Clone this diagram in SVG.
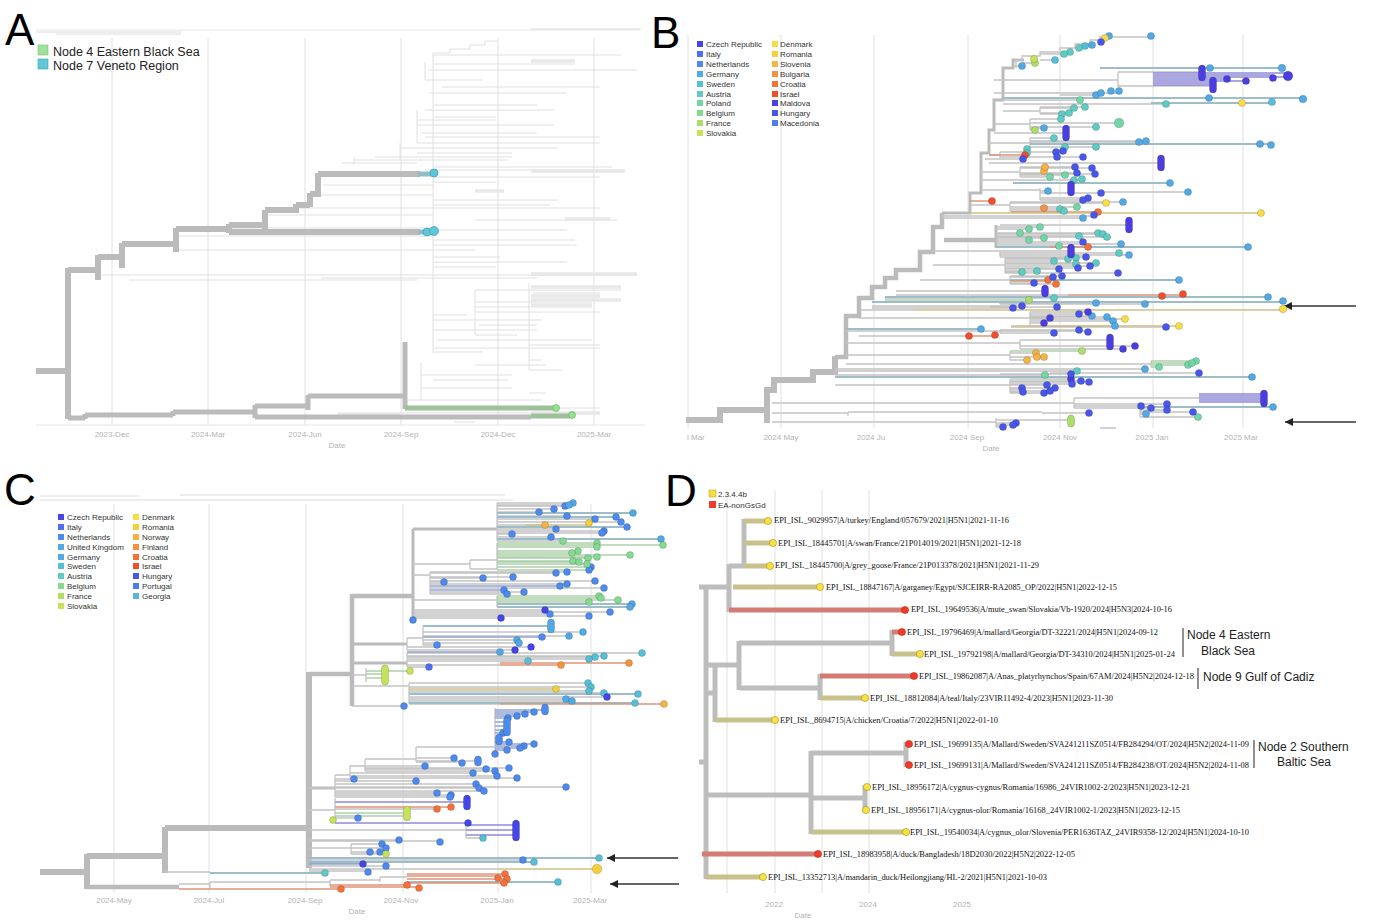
<svg xmlns="http://www.w3.org/2000/svg" width="1388" height="924" viewBox="0 0 1388 924">
<defs>
<marker id="ah" viewBox="0 0 10 10" markerWidth="11" markerHeight="8" markerUnits="userSpaceOnUse" refX="10" refY="5" orient="auto"><path d="M0 0 L10 5 L0 10 z" fill="#222"/></marker>
</defs>
<style>
.grid{stroke:#e0e0e0;stroke-width:1}
.ax{font-family:"Liberation Sans",Arial,sans-serif;font-size:8px;fill:#b3b3b3;text-anchor:middle}
.lg{font-family:"Liberation Sans",Arial,sans-serif;font-size:8px;fill:#333}
.big{font-family:"Liberation Sans",Arial,sans-serif;font-size:44px;fill:#000}
.nl{font-family:"Liberation Sans",Arial,sans-serif;font-size:12px;fill:#222}
.tip{font-family:"Liberation Serif","Times New Roman",serif;font-size:8.5px;fill:#111}
.br{fill:none;stroke:#c4c4c4;stroke-width:1.3}
.thk{fill:none;stroke:#bbbbbb}
.thin{fill:none;stroke:#e0e0e0;stroke-width:1}
.band{fill:none;stroke:#e8e8e8;stroke-width:3.5}
.tc{fill:none;stroke:#9dbdca;stroke-width:1.8}
.tb{fill:none;stroke:#93a7d4;stroke-width:1.4}
.tp{fill:none;stroke:#8e8bd8;stroke-width:1.5}
.tg{fill:none;stroke:#add1ab;stroke-width:1.4}
.to{fill:none;stroke:#e0957a;stroke-width:1.6}
.tt{fill:none;stroke:#cfc087;stroke-width:1.6}
.dots circle,.dots rect{stroke:rgba(0,0,0,0.25);stroke-width:0.6}
.c1{fill:#4646e8}.c2{fill:#4f6ff0}.c3{fill:#4c8aee}.c4{fill:#52a9e6}.c5{fill:#56bfd8}.c6{fill:#5fcbc2}.c7{fill:#72d6a8}.c8{fill:#85da92}.c9{fill:#abdf68}.c10{fill:#c6e25a}
.y1{fill:#f7dc48}.y2{fill:#f5cf3c}.o1{fill:#f5b347}.o2{fill:#f5913f}.o3{fill:#f5713a}.r1{fill:#f24e2e}.p1{fill:#4a3ee0}.b1{fill:#4857ea}.b2{fill:#4c7ef0}.gg{fill:#55b6df}
.arrow{stroke:#333;stroke-width:1.3;fill:none}
</style>
<rect width="1388" height="924" fill="#fff"/>

<!-- ================= PANEL A ================= -->
<g id="panel-A">
<text class="big" x="5" y="45">A</text>
<g id="A-grid">
<path class="grid" d="M112 38 V425 M208 38 V425 M305 38 V425 M401 38 V425 M498 38 V425 M594 38 V425"/>
<path d="M36 425 H645" stroke="#e6e6e6" stroke-width="1"/>
<path d="M36 30 H640" stroke="#e6e6e6" stroke-width="1"/>
<path d="M36 32 H181 M56 34 H181 M531 29 H641" stroke="#dcdcdc" stroke-width="1"/>
<text class="ax" x="112" y="437">2023-Dec</text>
<text class="ax" x="208" y="437">2024-Mar</text>
<text class="ax" x="305" y="437">2024-Jun</text>
<text class="ax" x="401" y="437">2024-Sep</text>
<text class="ax" x="498" y="437">2024-Dec</text>
<text class="ax" x="594" y="437">2025-Mar</text>
<text class="ax" x="337" y="448">Date</text>
</g>
<g id="A-connectors">
<path class="thin" d="M433 53 V353 M433 53 H450 V49 H470 V45 H485 V41 H497 M433 55 H621 M433 64 H575 M429 70 H637 M425 80 H483 M442 87 H600 M429 93 H567 M433 105 H537 M425 110 H554 M433 117 H496 M417 120 H496 M417 125 H554 M421 133 H537 M425 137 H600 M417 143 H600 M400 148 H558 M417 153 H512 M375 157 H512 M354 160 H508 M342 163 H417 M433 167 H612 M425 170 H625 M433 177 H600 M433 182 H496 M433 200 H558 M433 205 H550 M433 208 H600 M475 220 H617 M433 230 H567 M433 240 H575 M433 245 H577 M433 250 H475 M433 257 H500 M433 262 H567 M433 267 H496 M100 275 H637 M321 278 H537 M129 280 H417 M475 290 H621 M533 293 H600 M475 302 H592 M475 307 H592 M475 312 H600 M433 315 H467 M433 320 H542 M479 325 H537 M433 330 H537 M475 335 H517 M437 340 H592 M529 345 H600 M433 348 H600 M433 352 H483 M529 360 H542 M475 365 H546 M529 370 H562 M421 375 H512 M433 380 H508 M421 388 H512 M529 393 H546 M408 400 H542 M537 408 H600 M337 413 H600 M425 418 H467 M454 422 H475 M475 290 V335 M529 283 V370 M421 363 V400 M400 143 V160 M354 157 V165 M425 62 V80 M417 110 V143 M176 250 H433 M176 236 H433 M229 228 H433 M265 215 H433 M296 208 H433 M313 195 H433 M323 185 H433"/>
<path class="band" d="M531 61 H575 M531 171 H625 M475 191 H504 M565 219 H610 M531 274 H637 M531 287 H621 M531 296 H600 M531 300 H621 M531 305 H592 M531 413 H600 M338 415 H400"/>
<path class="thk" stroke-width="6" d="M36 371 H68 M68 268 V419 M68 270 H98 M98 255 V280 M98 257 H122 M122 243 V268 M122 244 H176 M176 228 V252 M176 229 H229 M229 224 V233 M229 232 H420 M229 225 H265 M265 210 V230 M265 210 H296 M296 204 V213 M296 205 H310 M310 193 V207 M310 194 H318 M318 173 V197 M318 174 H420"/>
<path class="thk" stroke-width="5" d="M68 418 H85 M85 414 V419 M85 415 H173 M173 411 V416 M173 412 H255 M255 405 V418 M255 406 H308 M308 395 V410 M308 396 H405 M405 342 V409 M255 417 H531"/>
<path fill="none" stroke="#8fbcc6" stroke-width="5" d="M418 232 H428 M418 174 H432"/>
<path fill="none" stroke="#a0c09c" stroke-width="5" d="M405 408 H554 M531 416 H570"/>
</g>
<g id="A-tips">
<circle cx="427" cy="232" r="4" fill="#5ec6d8" stroke="#3a9fb0" stroke-width="0.7"/>
<circle cx="434" cy="231" r="4.5" fill="#5ec6d8" stroke="#3a9fb0" stroke-width="0.7"/>
<circle cx="434" cy="173" r="4" fill="#5ec6d8" stroke="#3a9fb0" stroke-width="0.7"/>
<circle cx="556" cy="408" r="3.5" fill="#98e08f" stroke="#6ab860" stroke-width="0.7"/>
<circle cx="572" cy="415" r="3.5" fill="#98e08f" stroke="#6ab860" stroke-width="0.7"/>
</g>
<g id="A-legend">
<rect x="38" y="45" width="10" height="10" fill="#a0e29a" stroke="#7cc076" stroke-width="0.6"/>
<rect x="38" y="59" width="10" height="10" fill="#62c8d8" stroke="#3d9fb0" stroke-width="0.6"/>
<text x="53" y="56" font-family="Liberation Sans, Arial, sans-serif" font-size="12.5" fill="#222">Node 4 Eastern Black Sea</text>
<text x="53" y="70" font-family="Liberation Sans, Arial, sans-serif" font-size="12.5" fill="#222">Node 7 Veneto Region</text>
</g>
</g>

<!-- ================= PANEL B ================= -->
<g id="panel-B">
<text class="big" x="651" y="48">B</text>
<g id="B-grid">
<path class="grid" d="M688 35 V428 M781 35 V428 M874 35 V428 M968 35 V428 M1060 35 V428 M1153 35 V428 M1243 35 V428"/>
<text class="ax" x="687" y="440" style="text-anchor:start">l Mar</text>
<text class="ax" x="781" y="440">2024 May</text>
<text class="ax" x="871" y="440">2024 Ju</text>
<text class="ax" x="967" y="440">2024 Sep</text>
<text class="ax" x="1060" y="440">2024 Nov</text>
<text class="ax" x="1152" y="440">2025 Jan</text>
<text class="ax" x="1241" y="440">2025 Mar</text>
<text class="ax" x="991" y="451">Date</text>
</g>
<g id="B-connectors">
<path class="thk" stroke-width="6" d="M686 420 H720 V410 H767 M767 423 V390 H774 V380 H813 V372 H835 V356"/>
<path class="thk" stroke-width="4.5" d="M835 357 H846 V316 H859 V298 H872 V287 H885 V278 H896 V270 H920 V252 H933 V227 H942 V213 M944 240 H996"/>
<path class="thk" stroke-width="3" d="M942 213 H970 V193 H981 V153 H989 V130 H994 V100 H1003 V68 H1013 V60 H1024 M996 225 V248"/>
<path class="br" d="M1016 68 V60 H1022 V56 H1040 V52 H1060 V48 H1075 V44 H1090 V40 H1100 V37 H1151 M1040 54 H1064 M1040 60 H1055 M1022 63 H1035 M1013 66 H1022
M994 80 H1118 M1118 72 V87 M1118 72 H1202 M1118 86 H1213 M994 93 H1119 M1060 95 H1096 M1003 100 H1080 M1003 104 H1166
M1003 111 H1040 M1040 107 V114 M1040 108 H1074 M1040 107 H1085 M1040 113 H1069 M1040 114 H1062
M994 124 H1030 M1030 119 V130 M1030 119 H1061 M1030 123 H1119 M1030 127 H1096 M1030 128 H1044 M1030 130 H1035 M994 133 H1066
M989 143 H1030 M1030 138 V149 M1030 138 H1054 M1030 141 H1146 M1030 142 H1139 M1030 147 H1096 M1030 149 H1027
M989 155 H1000 M1000 152 V158 M1000 152 H1063 M1000 157 H1083 M985 159 H1023 M989 163 H1161
M981 172 H1020 M1020 167 V177 M1020 167 H1075 M1020 168 H1092 M1020 173 H1077 M1020 174 H1095 M1020 175 H1065 M1020 177 H1050 M981 180 H1082
M981 190 H1040 M1040 188 V200 M1040 191 H1048 M1040 193 H1101 M1040 198 H1088 M1040 200 H1083 M1100 192 H1188
M970 205 H1010 M1010 202 V211 M1010 202 H1123 M1010 203 H1106 M1010 207 H1077 M1010 209 H1060 M1010 211 H1064
M942 216 H1094 M942 218 H1083 M1000 225 H1129
M996 227 H1040 M996 229 H1029 M996 233 H1098 M996 234 H1103 M996 236 H1079 M996 237 H1107 M996 238 H1044 M996 240 H1029 M996 242 H1083 M996 244 H1121 M996 246 H1059
M933 251 H1071 M1000 253 H1119 M1000 255 H1129 M1000 257 H1086 M1000 251 V257
M933 265 H1005 M1005 258 V273 M1005 258 H1076 M1005 259 H1068 M1005 261 H1054 M1005 263 H1096 M1005 264 H1076 M1005 266 H1090 M1005 268 H1078 M1005 269 H1059 M1005 271 H1037 M1005 272 H1022 M1005 273 H1118
M920 280 H1010 M1010 276 V284 M1010 276 H1062 M1010 277 H1053 M1010 283 H1034 M1010 284 H1056
M896 291 H1045 M896 295 H1068 M885 298 H1054 M1000 303 H1096 M1000 304 H1145 M1000 302 V304
M872 306 H1022 M990 307 H1057 M872 308 H1013 M859 310 H915
M859 318 H1030 M1030 312 V326 M1030 312 H1088 M1030 314 H1079 M1030 316 H1092 M1030 317 H1107 M1030 318 H1050 M1030 319 H1125 M1030 321 H1113 M1030 323 H1044 M1030 326 H1115 M1011 327 H1166
M846 331 H1000 M1000 330 V333 M1000 330 H1079 M1000 331 H1088 M1000 333 H1054 M859 336 H969
M846 343 H1020 M1020 340 V349 M1020 340 H1110 M1020 346 H1135 M1020 349 H1123
M846 355 H1010 M1010 351 V360 M1010 353 H1036 M1010 357 H1044 M1010 360 H1027 M846 364 H1151 M1151 361 V367
M835 369 H1145 M835 371 H1077 M1050 373 H1199 M835 375 H1045 M1000 374 H1071
M835 385 H1010 M1010 379 V393 M1010 379 H1071 M1010 381 H1081 M1010 382 H1089 M1010 384 H1072 M1010 385 H1047 M1010 388 H1055 M1010 389 H1022 M1010 391 H1050 M1010 392 H1023 M1010 393 H1044
M772 403 H1074 M1074 398 V408 M1074 398 H1199 M1074 404 H1167 M1074 406 H1141 M1074 408 H1151 M1140 404 V417 M1140 410 H1167 M1140 412 H1193 M1140 414 H1146 M1140 417 H1198
M848 412 H1042 M772 413 H848 M1042 413 H1089 M848 412 V416 M772 422 H996 M996 418 V427 M996 420 H1071 M996 423 H1016 M996 425 H1013 M996 427 H1003 M1100 428 H1116"/>
<path class="tc" d="M1100 68 H1282 M1003 98 H1303 M1151 103 H1273 M1030 144 H1271 M1013 183 H1170 M996 247 H1248 M1010 280 H1179 M885 297 H1268 M872 302 H1283 M846 329 H981 M835 377 H1252 M1140 407 H1273"/>
<path class="tp" d="M1153 73 H1290 M1153 75 H1273 M1153 77 H1288 M1153 79 H1227 M1153 81 H1246 M1153 83 H1213 M1153 85 H1213 M1199 394 H1264 M1199 396 H1264 M1199 398 H1264 M1199 400 H1264 M1199 402 H1264"/>
<path class="to" d="M989 155 H1025 M970 201 H992 M1011 212 H1098 M1050 247 H1088 M1010 281 H1048 M1068 295 H1183 M969 336 H995"/>
<path class="tt" d="M970 213 H1261 M915 310 H1283 M1011 326 H1179"/>
<path class="tg" d="M885 300 H1029 M1010 351 H1082 M1151 361 H1196 M1151 363 H1192 M1151 365 H1188 M1151 367 H1159"/>
<path class="arrow" marker-end="url(#ah)" d="M1356 306 H1284"/>
<path class="arrow" marker-end="url(#ah)" d="M1356 422 H1285"/>
</g>
<g id="B-tips" class="dots">
<g class="c4">
<circle cx="1151" cy="36" r="3.6"/><circle cx="1109" cy="36" r="3.6"/><circle cx="1092" cy="45" r="3.6"/><circle cx="1022" cy="66" r="3.6"/><circle cx="1210" cy="68" r="3.6"/><circle cx="1282" cy="68" r="3.8"/><circle cx="1096" cy="95" r="3.6"/><circle cx="1101" cy="93" r="3.6"/><circle cx="1111" cy="91" r="3.6"/><circle cx="1119" cy="91" r="3.6"/><circle cx="1209" cy="98" r="3.6"/><circle cx="1303" cy="99" r="3.8"/><circle cx="1044" cy="128" r="3.6"/><circle cx="1139" cy="142" r="3.6"/><circle cx="1146" cy="141" r="3.6"/><circle cx="1260" cy="144" r="3.6"/><circle cx="1271" cy="145" r="3.6"/><circle cx="1170" cy="183" r="3.6"/><circle cx="1048" cy="191" r="3.6"/><circle cx="1188" cy="192" r="3.6"/><circle cx="1123" cy="202" r="3.6"/><circle cx="1083" cy="218" r="3.6"/><circle cx="1121" cy="244" r="3.6"/><circle cx="1248" cy="247" r="3.6"/><circle cx="1129" cy="255" r="3.6"/><circle cx="1179" cy="280" r="3.6"/><circle cx="1268" cy="297" r="3.6"/><circle cx="1283" cy="301" r="3.6"/><circle cx="1096" cy="303" r="3.6"/><circle cx="1145" cy="304" r="3.6"/><circle cx="1092" cy="316" r="3.6"/><circle cx="1107" cy="317" r="3.6"/><circle cx="1113" cy="321" r="3.6"/><circle cx="1115" cy="326" r="3.6"/><circle cx="981" cy="329" r="3.6"/><circle cx="1145" cy="369" r="3.6"/><circle cx="1252" cy="377" r="3.6"/><circle cx="1273" cy="407" r="3.6"/><circle cx="1146" cy="414" r="3.6"/>
</g>
<g class="c5"><circle cx="1085" cy="46" r="3.6"/><circle cx="1055" cy="60" r="3.6"/><circle cx="1272" cy="102" r="3.6"/></g>
<g class="c6">
<circle cx="1079" cy="48" r="3.6"/><circle cx="1070" cy="52" r="3.6"/><circle cx="1064" cy="54" r="3.6"/><circle cx="1166" cy="104" r="3.6"/><circle cx="1074" cy="108" r="3.6"/><circle cx="1085" cy="107" r="3.6"/><circle cx="1069" cy="113" r="3.6"/><circle cx="1062" cy="114" r="3.6"/><circle cx="1061" cy="119" r="3.6"/><circle cx="1096" cy="127" r="3.6"/><circle cx="1054" cy="138" r="3.6"/><circle cx="1065" cy="147" r="3.6"/><circle cx="1096" cy="147" r="3.6"/><circle cx="1027" cy="149" r="3.6"/><circle cx="1027" cy="153" r="3.6"/><circle cx="1074" cy="180" r="3.6"/><circle cx="1082" cy="179" r="3.6"/><circle cx="1060" cy="209" r="3.6"/><circle cx="1064" cy="211" r="3.6"/><circle cx="1098" cy="233" r="3.6"/><circle cx="1103" cy="234" r="3.6"/><circle cx="1107" cy="237" r="3.6"/><circle cx="1079" cy="236" r="3.6"/><circle cx="1119" cy="253" r="3.6"/><circle cx="1054" cy="261" r="3.6"/><circle cx="1068" cy="259" r="3.6"/><circle cx="1076" cy="258" r="3.6"/><circle cx="1096" cy="263" r="3.6"/><circle cx="1076" cy="264" r="3.6"/><circle cx="1037" cy="271" r="3.6"/><circle cx="1022" cy="272" r="3.6"/><circle cx="1054" cy="298" r="3.6"/><circle cx="1077" cy="371" r="3.6"/>
</g>
<g class="c7">
<circle cx="1080" cy="100" r="3.6"/><circle cx="1119" cy="123" r="4.8"/><circle cx="1050" cy="177" r="3.6"/><circle cx="1065" cy="175" r="3.6"/><circle cx="1077" cy="207" r="3.6"/><circle cx="1020" cy="233" r="3.6"/><circle cx="1029" cy="229" r="3.6"/><circle cx="1040" cy="227" r="3.6"/><circle cx="1029" cy="240" r="3.6"/><circle cx="1044" cy="238" r="3.6"/><circle cx="1059" cy="246" r="3.6"/><circle cx="1196" cy="361" r="3.6"/><circle cx="1188" cy="365" r="3.6"/><circle cx="1192" cy="363" r="3.6"/><circle cx="1159" cy="367" r="3.6"/><circle cx="1045" cy="375" r="3.6"/><circle cx="1198" cy="417" r="3.6"/>
</g>
<g class="c9"><circle cx="1035" cy="63" r="3.6"/><circle cx="1035" cy="130" r="3.6"/><circle cx="1029" cy="300" r="3.6"/><circle cx="1082" cy="351" r="3.6"/><rect x="1067.5" y="415" width="7" height="12" rx="3.5"/></g>
<g class="c10"><circle cx="1034" cy="59" r="3.6"/></g>
<g class="y1"><circle cx="1105" cy="38" r="3.6"/><circle cx="1242" cy="103" r="3.6"/><circle cx="1106" cy="203" r="3.6"/><circle cx="1261" cy="213" r="3.6"/><circle cx="1283" cy="309" r="3.8"/><circle cx="1125" cy="319" r="3.6"/><circle cx="1179" cy="326" r="3.6"/></g>
<g class="o1"><circle cx="1044" cy="171" r="3.6"/><circle cx="1045" cy="167" r="3.6"/><circle cx="1036" cy="353" r="3.6"/><circle cx="1037" cy="357" r="3.6"/><circle cx="1044" cy="357" r="3.6"/><circle cx="1027" cy="360" r="3.6"/></g>
<g class="o2"><circle cx="1044" cy="208" r="3.6"/></g>
<g class="o3"><circle cx="1098" cy="212" r="3.6"/><circle cx="1088" cy="247" r="3.6"/><circle cx="1048" cy="280" r="3.6"/><circle cx="1056" cy="284" r="3.6"/></g>
<g class="r1"><circle cx="1025" cy="155" r="3.6"/><circle cx="992" cy="201" r="3.6"/><circle cx="1162" cy="296" r="3.6"/><circle cx="1183" cy="294" r="3.6"/><circle cx="969" cy="336" r="3.6"/><circle cx="995" cy="335" r="3.6"/></g>
<g class="p1">
<circle cx="1227" cy="79" r="3.6"/><circle cx="1246" cy="81" r="3.6"/><circle cx="1273" cy="78" r="3.6"/><circle cx="1288" cy="76" r="4.8"/><circle cx="1088" cy="312" r="3.6"/><circle cx="1050" cy="318" r="3.6"/><circle cx="1044" cy="323" r="3.6"/><circle cx="1123" cy="349" r="3.6"/><circle cx="1135" cy="346" r="3.6"/><circle cx="1071" cy="379" r="3.6"/>
<rect x="1198.5" y="65" width="7" height="16" rx="3.5"/><rect x="1209.5" y="77" width="7" height="16" rx="3.5"/><rect x="1062.5" y="125" width="7" height="16" rx="3.5"/><rect x="1157.5" y="155" width="7" height="16" rx="3.5"/><rect x="1067.5" y="181" width="7" height="15" rx="3.5"/><rect x="1125.5" y="217" width="7" height="16" rx="3.5"/><rect x="1067.5" y="244" width="7" height="14" rx="3.5"/><rect x="1041.5" y="285" width="7" height="12" rx="3.5"/><rect x="1106.5" y="334" width="7" height="16" rx="3.5"/><rect x="1260.5" y="390" width="7" height="17" rx="3.5"/>
</g>
<g class="b1">
<circle cx="1101" cy="42" r="3.6"/><circle cx="1056" cy="152" r="3.6"/><circle cx="1063" cy="151" r="3.6"/><circle cx="1083" cy="157" r="3.6"/><circle cx="1057" cy="157" r="3.6"/><circle cx="1023" cy="159" r="3.6"/><circle cx="1075" cy="167" r="3.6"/><circle cx="1092" cy="168" r="3.6"/><circle cx="1077" cy="173" r="3.6"/><circle cx="1095" cy="174" r="3.6"/><circle cx="1101" cy="193" r="3.6"/><circle cx="1088" cy="198" r="3.6"/><circle cx="1083" cy="200" r="3.6"/><circle cx="1094" cy="215" r="3.6"/><circle cx="1083" cy="242" r="3.6"/><circle cx="1086" cy="257" r="3.6"/><circle cx="1090" cy="266" r="3.6"/><circle cx="1078" cy="268" r="3.6"/><circle cx="1059" cy="269" r="3.6"/><circle cx="1118" cy="273" r="3.6"/><circle cx="1053" cy="277" r="3.6"/><circle cx="1062" cy="276" r="3.6"/><circle cx="1034" cy="283" r="3.6"/><circle cx="1022" cy="306" r="3.6"/><circle cx="1013" cy="308" r="3.6"/><circle cx="1057" cy="307" r="3.6"/><circle cx="1079" cy="314" r="3.6"/><circle cx="1166" cy="327" r="3.6"/><circle cx="1079" cy="330" r="3.6"/><circle cx="1088" cy="332" r="3.6"/><circle cx="1054" cy="333" r="3.6"/><circle cx="1199" cy="373" r="3.6"/><circle cx="1071" cy="374" r="3.6"/><circle cx="1081" cy="381" r="3.6"/><circle cx="1089" cy="382" r="3.6"/><circle cx="1072" cy="384" r="3.6"/><circle cx="1047" cy="385" r="3.6"/><circle cx="1055" cy="388" r="3.6"/><circle cx="1022" cy="388" r="3.6"/><circle cx="1023" cy="392" r="3.6"/><circle cx="1044" cy="393" r="3.6"/><circle cx="1050" cy="391" r="3.6"/><circle cx="1167" cy="404" r="3.6"/><circle cx="1141" cy="406" r="3.6"/><circle cx="1151" cy="408" r="3.6"/><circle cx="1167" cy="410" r="3.6"/><circle cx="1193" cy="412" r="3.6"/><circle cx="1089" cy="413" r="3.6"/><circle cx="1016" cy="423" r="3.6"/><circle cx="1013" cy="425" r="3.6"/><circle cx="1003" cy="427" r="3.6"/>
</g>
</g>
<g id="B-legend" class="lg">
<rect class="c1" x="697" y="41" width="6" height="6"/><text x="706" y="47">Czech Republic</text>
<rect class="c2" x="697" y="51" width="6" height="6"/><text x="706" y="57">Italy</text>
<rect class="c3" x="697" y="61" width="6" height="6"/><text x="706" y="67">Netherlands</text>
<rect class="c4" x="697" y="71" width="6" height="6"/><text x="706" y="77">Germany</text>
<rect class="c5" x="697" y="81" width="6" height="6"/><text x="706" y="87">Sweden</text>
<rect class="c6" x="697" y="91" width="6" height="6"/><text x="706" y="97">Austria</text>
<rect class="c7" x="697" y="100" width="6" height="6"/><text x="706" y="106">Poland</text>
<rect class="c8" x="697" y="110" width="6" height="6"/><text x="706" y="116">Belgium</text>
<rect class="c9" x="697" y="120" width="6" height="6"/><text x="706" y="126">France</text>
<rect class="c10" x="697" y="130" width="6" height="6"/><text x="706" y="136">Slovakia</text>
<rect class="y1" x="772" y="41" width="6" height="6"/><text x="780" y="47">Denmark</text>
<rect class="y2" x="772" y="51" width="6" height="6"/><text x="780" y="57">Romania</text>
<rect class="o1" x="772" y="61" width="6" height="6"/><text x="780" y="67">Slovenia</text>
<rect class="o2" x="772" y="71" width="6" height="6"/><text x="780" y="77">Bulgaria</text>
<rect class="o3" x="772" y="81" width="6" height="6"/><text x="780" y="87">Croatia</text>
<rect class="r1" x="772" y="91" width="6" height="6"/><text x="780" y="97">Israel</text>
<rect class="p1" x="772" y="100" width="6" height="6"/><text x="780" y="106">Maldova</text>
<rect class="b1" x="772" y="110" width="6" height="6"/><text x="780" y="116">Hungary</text>
<rect class="b2" x="772" y="120" width="6" height="6"/><text x="780" y="126">Macedonia</text>
</g>
</g>

<!-- ================= PANEL C ================= -->
<g id="panel-C">
<text class="big" x="4" y="505">C</text>
<g id="C-grid">
<path class="grid" d="M114 504 V893 M209 504 V893 M306 504 V893 M403 504 V893 M498 504 V893 M591 504 V893"/>
<path d="M40 500 H513 M40 496 H140 M180 495 H505" stroke="#dcdcdc" stroke-width="1"/>
<text class="ax" x="114" y="903">2024-May</text>
<text class="ax" x="209" y="903">2024-Jul</text>
<text class="ax" x="305" y="903">2024-Sep</text>
<text class="ax" x="401" y="903">2024-Nov</text>
<text class="ax" x="497" y="903">2025-Jan</text>
<text class="ax" x="590" y="903">2025-Mar</text>
<text class="ax" x="357" y="914">Date</text>
</g>
<g id="C-connectors">
<path class="thk" stroke-width="6" d="M40 872 H87 M87 854 V889 M87 856 H165 M165 827 V873 M165 828 H309 M309 672 V868"/>
<path class="thk" stroke-width="4.5" d="M309 674 H352 M352 594 V706 M352 596 H413 M87 887 H179"/>
<path class="thk" stroke-width="3" d="M413 529 V621 M413 529 H497 M352 644 H407 M352 663 H407 M309 788 H335"/>
<path class="br" d="M497 503 V541 M497 503 H573 M497 505 H569 M497 506 H565 M497 509 H554 M497 512 H539 M497 516 H567 M497 519 H595 M497 522 H621 M497 525 H545 M497 529 H556 M497 531 H604 M497 533 H602 M497 534 H512 M497 537 H551 M497 541 H563
M413 564 H470 M470 560 V569 M470 560 H497 M470 569 H497 M497 543 V570
M413 575 H430 M430 572 V594 M430 572 H567 M430 573 H556 M430 577 H513 M430 578 H483 M430 581 H595 M430 582 H444 M430 584 H567 M430 588 H604 M430 592 H524 M430 594 H507
M413 600 H497 M497 596 V607 M413 610 H545 M413 612 H610 M413 614 H550 M413 616 H589 M413 618 H501
M407 638 V650 M407 638 H423 M423 626 V645 M423 632 H583 M423 636 H569 M423 640 H517 M423 643 H519 M423 645 H437 M407 647 H531 M407 650 H515
M407 653 V667 M407 653 H642 M407 656 H604 M407 657 H595 M407 659 H589 M407 661 H528 M407 665 H500 M407 667 H429
M352 675 H366 M366 668 V682
M352 686 H409 M409 683 V704 M409 683 H588 M409 687 H591 M409 691 H589 M409 693 H604 M409 697 H607 M409 699 H566 M409 701 H572 M409 704 H500 M352 706 H404
M416 747 H495 M495 708 V756 M309 788 H335 M335 775 V797 M335 775 H350 M350 765 V777 M350 766 H365 M365 759 V771 M365 759 H416 M416 747 V762
M416 758 H454 M416 761 H478 M416 762 H462 M365 766 H425 M365 769 H486 M365 768 H509 M365 771 H495 M350 773 H473 M350 776 H497 M350 778 H517 M335 779 H354 M335 781 H416
M335 784 H476 M335 788 H479 M335 791 H484 M335 787 H566 M335 793 H437 M335 795 H451 M335 797 H450
M309 810 H335 M335 798 V823 M335 809 H437 M335 818 H358
M309 830 H466 M466 823 V838 M466 838 H483 M309 841 H440 M309 840 H399 M309 848 H351 M351 844 V854 M351 844 H382 M351 848 H386 M351 852 H380 M351 854 H386
M309 860 H523 M309 866 H386 M309 869 H497 M165 872 H210 M309 871 H368
M179 884 H210 M210 882 V889 M210 882 H330 M330 880 V886 M330 880 H380 M380 877 V882 M380 877 H407"/>
<path class="tb" d="M495 710 H545 M495 712 H534 M495 714 H525 M495 716 H517 M495 718 H508 M495 722 H507 M495 726 H507 M495 730 H507 M495 733 H503 M495 738 H499 M495 742 H509 M495 744 H534 M495 746 H524 M495 748 H520 M495 750 H507 M495 754 H495 M430 586 H560 M430 590 H504 M423 637 H542 M309 863 H364 M309 864 H363 M407 652 H500"/>
<path class="tc" d="M497 513 H633 M497 539 H661 M497 527 H627 M497 517 H616 M497 604 H632 M497 607 H630 M309 858 H599 M309 862 H534 M210 873 H325 M407 882 H558 M409 694 H638 M409 703 H635 M423 626 H551"/>
<path class="tg" d="M497 543 H597 M497 545 H663 M497 547 H597 M497 551 H578 M497 553 H572 M497 555 H630 M497 557 H597 M497 558 H588 M497 561 H573 M497 562 H579 M497 564 H587 M497 567 H591 M497 570 H589 M497 596 H599 M497 598 H601 M497 600 H618 M497 602 H589 M366 671 H410 M366 674 H385 M366 678 H385 M335 813 H407 M335 816 H407 M335 820 H333"/>
<path class="tp" d="M335 823 H468 M466 825 H516 M466 830 H516 M466 835 H516 M335 802 H467"/>
<path class="to" d="M500 665 H561 M500 663 H629 M500 704 H664 M407 874 H505 M407 876 H498 M407 879 H507 M407 883 H504 M330 885 H407 M330 887 H419 M179 889 H341 M335 807 H451"/>
<path class="tt" d="M525 525 H589 M409 689 H556 M497 869 H597"/>
<path class="arrow" marker-end="url(#ah)" d="M678 858 H607"/>
<path class="arrow" marker-end="url(#ah)" d="M679 884 H610"/>
</g>
<g id="C-tips" class="dots">
<g class="c3">
<circle cx="565" cy="506" r="3.5"/><circle cx="554" cy="509" r="3.5"/><circle cx="539" cy="512" r="3.5"/><circle cx="567" cy="516" r="3.5"/><circle cx="616" cy="517" r="3.5"/><circle cx="595" cy="519" r="3.5"/><circle cx="621" cy="522" r="3.5"/><circle cx="556" cy="529" r="3.5"/><circle cx="604" cy="531" r="3.5"/><circle cx="602" cy="533" r="3.5"/><circle cx="627" cy="527" r="3.5"/><circle cx="512" cy="534" r="3.5"/><circle cx="551" cy="537" r="3.5"/><circle cx="591" cy="567" r="3.5"/><circle cx="589" cy="570" r="3.5"/><circle cx="567" cy="572" r="3.5"/><circle cx="556" cy="573" r="3.5"/><circle cx="513" cy="577" r="3.5"/><circle cx="483" cy="578" r="3.5"/><circle cx="595" cy="581" r="3.5"/><circle cx="444" cy="582" r="3.5"/><circle cx="567" cy="584" r="3.5"/><circle cx="560" cy="586" r="3.5"/><circle cx="604" cy="588" r="3.5"/><circle cx="504" cy="590" r="3.5"/><circle cx="507" cy="594" r="3.5"/><circle cx="524" cy="592" r="3.5"/><circle cx="550" cy="614" r="3.5"/><circle cx="589" cy="616" r="3.5"/><circle cx="610" cy="612" r="3.5"/><circle cx="413" cy="620" r="3.5"/><circle cx="542" cy="637" r="3.5"/><circle cx="437" cy="645" r="3.5"/><circle cx="523" cy="860" r="3.5"/><circle cx="386" cy="866" r="3.5"/><circle cx="368" cy="872" r="3.5"/><circle cx="404" cy="706" r="3.5"/><circle cx="534" cy="712" r="3.5"/><circle cx="525" cy="714" r="3.5"/><circle cx="517" cy="716" r="3.5"/><circle cx="508" cy="718" r="3.5"/><circle cx="503" cy="733" r="3.5"/><circle cx="509" cy="742" r="3.5"/><circle cx="524" cy="746" r="3.5"/><circle cx="534" cy="744" r="3.5"/><circle cx="520" cy="748" r="3.5"/><circle cx="507" cy="750" r="3.5"/><circle cx="495" cy="754" r="3.5"/><circle cx="454" cy="758" r="3.5"/><circle cx="462" cy="763" r="3.5"/><circle cx="425" cy="766" r="3.5"/><circle cx="486" cy="769" r="3.5"/><circle cx="509" cy="768" r="3.5"/><circle cx="495" cy="771" r="3.5"/><circle cx="473" cy="773" r="3.5"/><circle cx="497" cy="776" r="3.5"/><circle cx="517" cy="778" r="3.5"/><circle cx="354" cy="779" r="3.5"/><circle cx="416" cy="781" r="3.5"/><circle cx="476" cy="784" r="3.5"/><circle cx="479" cy="788" r="3.5"/><circle cx="484" cy="791" r="3.5"/><circle cx="566" cy="787" r="3.5"/><circle cx="437" cy="793" r="3.5"/><circle cx="451" cy="795" r="3.5"/><circle cx="450" cy="797" r="3.5"/><circle cx="358" cy="818" r="3.5"/><circle cx="399" cy="840" r="3.5"/><circle cx="440" cy="842" r="3.5"/><circle cx="382" cy="844" r="3.5"/><circle cx="386" cy="848" r="3.5"/><circle cx="380" cy="852" r="3.5"/><circle cx="370" cy="852" r="3.5"/>
<rect x="541.5" y="704" width="7" height="11" rx="3.5"/><rect x="503.5" y="717" width="7" height="19" rx="3.5"/><rect x="495.5" y="734" width="7" height="11" rx="3.5"/><rect x="474.5" y="756" width="7" height="10" rx="3.5"/>
</g>
<g class="c2"><circle cx="429" cy="667" r="3.5"/></g>
<g class="c4"><circle cx="573" cy="503" r="3.5"/><circle cx="569" cy="505" r="3.5"/><circle cx="633" cy="513" r="3.5"/><circle cx="661" cy="539" r="3.5"/><circle cx="632" cy="604" r="3.5"/><circle cx="630" cy="607" r="3.5"/><circle cx="583" cy="632" r="3.5"/><circle cx="569" cy="636" r="3.5"/><circle cx="517" cy="640" r="3.5"/><circle cx="519" cy="643" r="3.5"/><circle cx="500" cy="652" r="3.5"/><circle cx="566" cy="699" r="3.5"/><circle cx="572" cy="701" r="3.5"/><rect x="547.5" y="619" width="7" height="14" rx="3.5"/></g>
<g class="c5"><circle cx="642" cy="653" r="3.5"/><circle cx="604" cy="656" r="3.5"/><circle cx="595" cy="657" r="3.5"/><circle cx="589" cy="659" r="3.5"/><circle cx="528" cy="661" r="3.5"/><circle cx="588" cy="683" r="3.5"/><circle cx="591" cy="687" r="3.5"/><circle cx="589" cy="691" r="3.5"/><circle cx="604" cy="693" r="3.5"/><circle cx="638" cy="694" r="3.5"/><circle cx="635" cy="703" r="3.5"/><circle cx="483" cy="838" r="3.5"/><circle cx="599" cy="858" r="3.5"/><circle cx="534" cy="862" r="3.5"/><circle cx="558" cy="882" r="3.5"/></g>
<g class="c6"><circle cx="325" cy="873" r="3.5"/></g>
<g class="c8"><circle cx="563" cy="541" r="3.5"/><circle cx="597" cy="543" r="3.5"/><circle cx="663" cy="545" r="3.5"/><circle cx="597" cy="547" r="3.5"/><circle cx="578" cy="551" r="3.5"/><circle cx="572" cy="553" r="3.5"/><circle cx="630" cy="555" r="3.5"/><circle cx="597" cy="557" r="3.5"/><circle cx="588" cy="558" r="3.5"/><circle cx="573" cy="561" r="3.5"/><circle cx="579" cy="562" r="3.5"/><circle cx="587" cy="564" r="3.5"/><circle cx="599" cy="596" r="3.5"/><circle cx="601" cy="598" r="3.5"/><circle cx="618" cy="600" r="3.5"/><circle cx="589" cy="602" r="3.5"/></g>
<g class="c10"><circle cx="410" cy="671" r="3.5"/><circle cx="333" cy="820" r="3.5"/><circle cx="386" cy="854" r="3.5"/><rect x="381.5" y="665" width="7" height="20" rx="3.5"/><rect x="403.5" y="806" width="7" height="15" rx="3.5"/></g>
<g class="y2"><circle cx="589" cy="523" r="3.5"/><circle cx="556" cy="689" r="3.5"/><circle cx="597" cy="869" r="4.8"/></g>
<g class="o1"><circle cx="545" cy="525" r="3.5"/><circle cx="664" cy="704" r="3.5"/></g>
<g class="o2"><circle cx="561" cy="665" r="3.5"/><circle cx="629" cy="663" r="3.5"/></g>
<g class="o3"><circle cx="437" cy="809" r="3.5"/><circle cx="451" cy="807" r="3.5"/><circle cx="505" cy="874" r="3.5"/><circle cx="507" cy="879" r="3.5"/><circle cx="498" cy="878" r="3.5"/><circle cx="504" cy="883" r="3.5"/><circle cx="407" cy="885" r="3.5"/><circle cx="419" cy="888" r="3.5"/><circle cx="341" cy="889" r="3.5"/></g>
<g class="c1"><circle cx="545" cy="610" r="3.5"/><circle cx="501" cy="618" r="3.5"/><circle cx="515" cy="650" r="3.5"/><circle cx="531" cy="647" r="3.5"/><circle cx="607" cy="697" r="3.5"/><circle cx="468" cy="823" r="3.5"/><circle cx="363" cy="864" r="3.5"/><rect x="463.5" y="795" width="7" height="15" rx="3.5"/><rect x="512.5" y="820" width="7" height="21" rx="3.5"/></g>
</g>
<g id="C-legend" class="lg">
<rect class="c1" x="58" y="514" width="6" height="6"/><text x="67" y="520">Czech Republic</text>
<rect class="c2" x="58" y="524" width="6" height="6"/><text x="67" y="530">Italy</text>
<rect class="c3" x="58" y="534" width="6" height="6"/><text x="67" y="540">Netherlands</text>
<rect class="c4" x="58" y="544" width="6" height="6"/><text x="67" y="550">United Kingdom</text>
<rect class="c4" x="58" y="554" width="6" height="6"/><text x="67" y="560">Germany</text>
<rect class="c5" x="58" y="563" width="6" height="6"/><text x="67" y="569">Sweden</text>
<rect class="c6" x="58" y="573" width="6" height="6"/><text x="67" y="579">Austria</text>
<rect class="c8" x="58" y="583" width="6" height="6"/><text x="67" y="589">Belgium</text>
<rect class="c9" x="58" y="593" width="6" height="6"/><text x="67" y="599">France</text>
<rect class="c10" x="58" y="603" width="6" height="6"/><text x="67" y="609">Slovakia</text>
<rect class="y1" x="133" y="514" width="6" height="6"/><text x="142" y="520">Denmark</text>
<rect class="y2" x="133" y="524" width="6" height="6"/><text x="142" y="530">Romania</text>
<rect class="o1" x="133" y="534" width="6" height="6"/><text x="142" y="540">Norway</text>
<rect class="o2" x="133" y="544" width="6" height="6"/><text x="142" y="550">Finland</text>
<rect class="o3" x="133" y="554" width="6" height="6"/><text x="142" y="560">Croatia</text>
<rect class="r1" x="133" y="563" width="6" height="6"/><text x="142" y="569">Israel</text>
<rect class="b1" x="133" y="573" width="6" height="6"/><text x="142" y="579">Hungary</text>
<rect class="b2" x="133" y="583" width="6" height="6"/><text x="142" y="589">Portugal</text>
<rect class="gg" x="133" y="593" width="6" height="6"/><text x="142" y="599">Georgia</text>
</g>
</g>

<!-- ================= PANEL D ================= -->
<g id="panel-D">
<text class="big" x="665" y="506">D</text>
<g id="D-grid">
<path class="grid" d="M727 490 V893 M775 490 V893 M822 490 V893 M869 490 V893"/>
<text class="ax" x="774" y="907">2022</text>
<text class="ax" x="868" y="907">2024</text>
<text class="ax" x="962" y="907">2025</text>
<text class="ax" x="803" y="918">Date</text>
</g>
<g id="D-legend" class="lg">
<rect x="709" y="490" width="7" height="7" fill="#f7dc48" stroke="#b8a000" stroke-width="0.5"/><text x="718" y="497">2.3.4.4b</text>
<rect x="709" y="501" width="7" height="7" fill="#ee3b2b"/><text x="718" y="508">EA-nonGsGd</text>
</g>
<g id="D-connectors">
<path fill="none" stroke="#bdbdbd" stroke-width="5" d="M699 587 H729 M706 585 V879 M729 564 V612 M729 566 H744 M744 519 V568 M706 665 H739 M706 693 H715 M715 663 V722 M739 641 V690 M739 643 H892 M892 630 V656 M739 688 H820 M820 674 V700 M706 795 H811 M811 751 V834 M811 753 H906 M906 742 V767 M811 798 H865 M865 785 V812 M699 762 H706"/>
<path fill="none" stroke="#c9c18c" stroke-width="5" d="M744 521 H768 M744 543 H773 M744 566 H770 M733 587 H820 M892 654 H920 M820 698 H865 M715 720 H775 M865 787 H867 M865 810 H866 M811 832 H906 M706 877 H763"/>
<path fill="none" stroke="#d27c74" stroke-width="5" d="M729 610 H905 M892 632 H902 M820 676 H914 M906 744 H909 M906 765 H909 M702 854 H818"/>
<path fill="none" stroke="#222" stroke-width="1" d="M1183 628 V657 M1198 668 V689 M1254 740 V768"/>
</g>
<g id="D-tips">
<g fill="#f8e04a" stroke="#a89400" stroke-width="0.6">
<circle cx="768" cy="521" r="3.6"/><circle cx="773" cy="543" r="3.6"/><circle cx="770" cy="566" r="3.6"/><circle cx="820" cy="587" r="3.6"/><circle cx="920" cy="654" r="3.6"/><circle cx="865" cy="698" r="3.6"/><circle cx="775" cy="720" r="3.6"/><circle cx="867" cy="787" r="3.6"/><circle cx="866" cy="810" r="3.6"/><circle cx="906" cy="832" r="3.6"/><circle cx="763" cy="877" r="3.6"/>
</g>
<g fill="#ee3b2b" stroke="#b02010" stroke-width="0.5">
<circle cx="905" cy="610" r="3.6"/><circle cx="902" cy="632" r="3.6"/><circle cx="914" cy="676" r="3.6"/><circle cx="909" cy="744" r="3.6"/><circle cx="909" cy="765" r="3.6"/><circle cx="818" cy="854" r="3.6"/>
</g>
<text class="tip" x="774" y="523" textLength="235" lengthAdjust="spacingAndGlyphs">EPI_ISL_9029957|A/turkey/England/057679/2021|H5N1|2021-11-16</text>
<text class="tip" x="778" y="546" textLength="243" lengthAdjust="spacingAndGlyphs">EPI_ISL_18445701|A/swan/France/21P014019/2021|H5N1|2021-12-18</text>
<text class="tip" x="775" y="568" textLength="264" lengthAdjust="spacingAndGlyphs">EPI_ISL_18445700|A/grey_goose/France/21P013378/2021|H5N1|2021-11-29</text>
<text class="tip" x="826" y="590" textLength="291" lengthAdjust="spacingAndGlyphs">EPI_ISL_18847167|A/garganey/Egypt/SJCEIRR-RA2085_OP/2022|H5N1|2022-12-15</text>
<text class="tip" x="911" y="612" textLength="261" lengthAdjust="spacingAndGlyphs">EPI_ISL_19649536|A/mute_swan/Slovakia/Vb-1920/2024|H5N3|2024-10-16</text>
<text class="tip" x="907" y="635" textLength="251" lengthAdjust="spacingAndGlyphs">EPI_ISL_19796469|A/mallard/Georgia/DT-32221/2024|H5N1|2024-09-12</text>
<text class="tip" x="924" y="657" textLength="251" lengthAdjust="spacingAndGlyphs">EPI_ISL_19792198|A/mallard/Georgia/DT-34310/2024|H5N1|2025-01-24</text>
<text class="tip" x="919" y="679" textLength="275" lengthAdjust="spacingAndGlyphs">EPI_ISL_19862087|A/Anas_platyrhynchos/Spain/67AM/2024|H5N2|2024-12-18</text>
<text class="tip" x="870" y="701" textLength="243" lengthAdjust="spacingAndGlyphs">EPI_ISL_18812084|A/teal/Italy/23VIR11492-4/2023|H5N1|2023-11-30</text>
<text class="tip" x="780" y="723" textLength="218" lengthAdjust="spacingAndGlyphs">EPI_ISL_8694715|A/chicken/Croatia/7/2022|H5N1|2022-01-10</text>
<text class="tip" x="914" y="747" textLength="335" lengthAdjust="spacingAndGlyphs">EPI_ISL_19699135|A/Mallard/Sweden/SVA241211SZ0514/FB284294/OT/2024|H5N2|2024-11-09</text>
<text class="tip" x="914" y="768" textLength="335" lengthAdjust="spacingAndGlyphs">EPI_ISL_19699131|A/Mallard/Sweden/SVA241211SZ0514/FB284238/OT/2024|H5N2|2024-11-08</text>
<text class="tip" x="872" y="790" textLength="318" lengthAdjust="spacingAndGlyphs">EPI_ISL_18956172|A/cygnus-cygnus/Romania/16986_24VIR1002-2/2023|H5N1|2023-12-21</text>
<text class="tip" x="871" y="813" textLength="309" lengthAdjust="spacingAndGlyphs">EPI_ISL_18956171|A/cygnus-olor/Romania/16168_24VIR1002-1/2023|H5N1|2023-12-15</text>
<text class="tip" x="910" y="835" textLength="339" lengthAdjust="spacingAndGlyphs">EPI_ISL_19540034|A/cygnus_olor/Slovenia/PER1636TAZ_24VIR9358-12/2024|H5N1|2024-10-10</text>
<text class="tip" x="823" y="857" textLength="252" lengthAdjust="spacingAndGlyphs">EPI_ISL_18983958|A/duck/Bangladesh/18D2030/2022|H5N2|2022-12-05</text>
<text class="tip" x="768" y="880" textLength="279" lengthAdjust="spacingAndGlyphs">EPI_ISL_13352713|A/mandarin_duck/Heilongjiang/HL-2/2021|H5N1|2021-10-03</text>
</g>
<g id="D-node-labels">
<text class="nl" x="1187" y="639">Node 4 Eastern</text>
<text class="nl" x="1201" y="655">Black Sea</text>
<text class="nl" x="1203" y="681">Node 9 Gulf of Cadiz</text>
<text class="nl" x="1258" y="751">Node 2 Southern</text>
<text class="nl" x="1277" y="766">Baltic Sea</text>
</g>
</g>
</svg>
